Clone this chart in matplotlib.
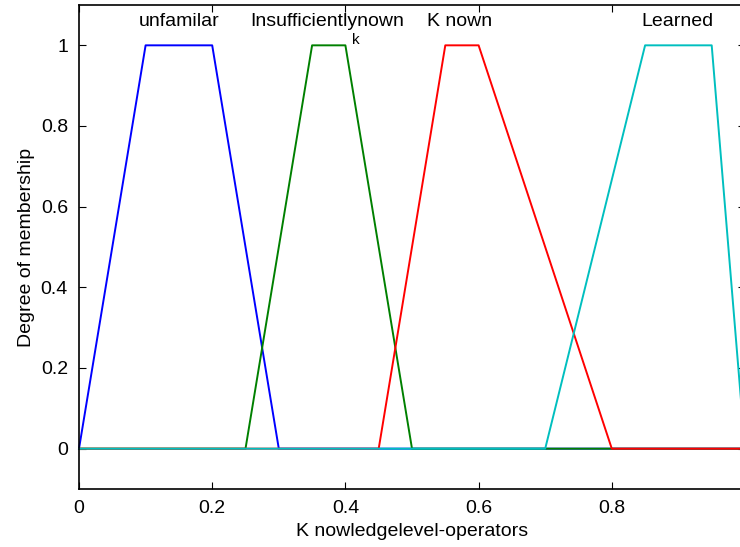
import numpy as np
import matplotlib
matplotlib.use("Agg")
import matplotlib.pyplot as plt

plt.rcParams['font.family'] = ['Liberation Sans', 'DejaVu Sans']

names = ["unfamilar", "Insufficientlynown", "K nown", "Learned"]
params = [
    [0.0, 0.1, 0.2, 0.3],
    [0.25, 0.35, 0.4, 0.5],
    [0.45, 0.55, 0.6, 0.8],
    [0.7, 0.85, 0.95, 1.0],
]
label_x = [0.15, 0.372, 0.571, 0.898]
colors = ["#0000ff", "#008000", "#ff0000", "#00bfbf"]

def trapmf(x, p):
    a, b, c, d = p
    up = (x - a) / (b - a) if b > a else np.ones_like(x)
    dn = (d - x) / (d - c) if d > c else np.ones_like(x)
    y = np.clip(np.minimum(np.minimum(up, 1.0), dn), 0, 1)
    y[(x < a) | (x > d)] = 0
    return y

x = np.linspace(0, 1, 2001)

fig = plt.figure(figsize=(7.4, 5.47), dpi=100)
ax = fig.add_axes([79/740, 58/547, 666/740, 484/547])

for p, col in zip(params, colors):
    ax.plot(x, trapmf(x, p), color=col, lw=1.4, clip_on=False)

fs = 14
for nm, lx in zip(names, label_x):
    ax.text(lx, 1.058, nm, ha='center', va='center', fontsize=fs)
ax.text(0.415, 1.013, "k", ha='center', va='center', fontsize=fs - 3)

ax.set_xlim(0, 1)
ax.set_ylim(-0.1, 1.1)
ax.set_xticks([0, 0.2, 0.4, 0.6, 0.8])
ax.set_xticklabels(["0", "0.2", "0.4", "0.6", "0.8"])
ax.set_yticks([0, 0.2, 0.4, 0.6, 0.8, 1])
ax.set_yticklabels(["0", "0.2", "0.4", "0.6", "0.8", "1"])
ax.tick_params(direction='in', top=True, right=True, labelsize=fs, length=5, pad=8)
for s in ax.spines.values():
    s.set_linewidth(1.2)
ax.set_xlabel("K nowledgelevel-operators", fontsize=fs, labelpad=4)
ax.set_ylabel("Degree of membership", fontsize=fs, labelpad=4)

fig.savefig("out.png", dpi=100)
